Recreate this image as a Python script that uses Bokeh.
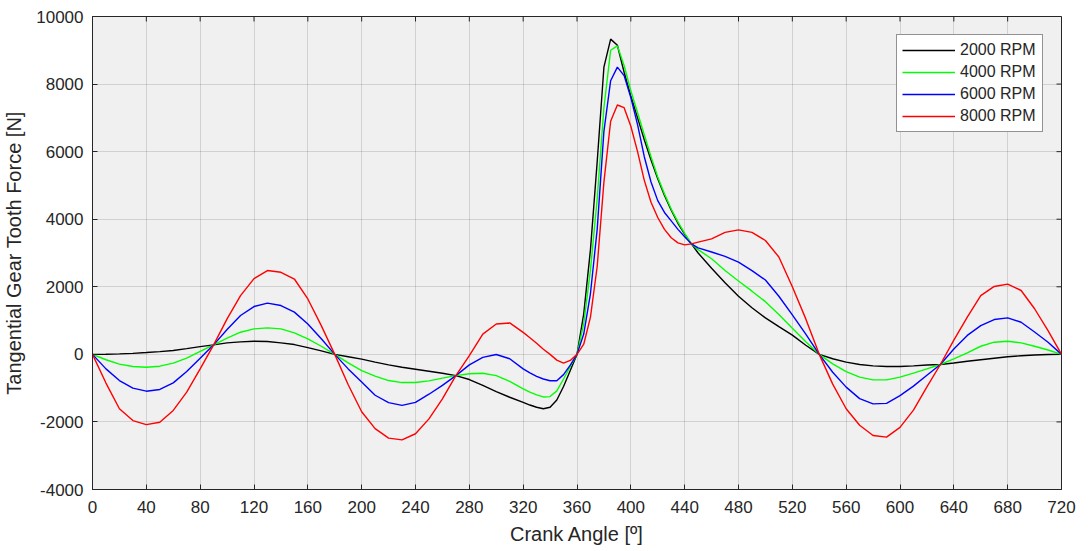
from bokeh.plotting import figure
from bokeh.models import Range1d, FixedTicker, Legend, LegendItem
from bokeh.embed import file_html
from bokeh.resources import INLINE

crank_angle = [0, 10, 20, 30, 40, 50, 60, 70, 80, 90, 100, 110, 120, 130, 140, 150, 160, 170, 180,
               190, 200, 210, 220, 230, 240, 250, 260, 270, 280, 290, 300, 310, 320,
               325, 330, 335, 340, 345, 350, 355, 360, 365, 370, 375, 380, 385, 390, 395, 400,
               405, 410, 415, 420, 425, 430, 435, 440, 445, 450,
               460, 470, 480, 490, 500, 510, 520, 530, 540, 550, 560, 570, 580, 590, 600,
               610, 620, 630, 640, 650, 660, 670, 680, 690, 700, 710, 720]

rpm_2000 = [0, 5, 15, 30, 53, 80, 115, 170, 230, 281, 340, 370, 390, 380, 340, 290, 200, 105, 0,
            -70, -140, -230, -310, -380, -440, -500, -560, -630, -745, -920, -1100, -1270, -1420,
            -1500, -1565, -1610, -1565, -1350, -950, -480, 0, 1200, 3100, 5700, 8500, 9330, 9150, 8350, 7650,
            7000, 6350, 5750, 5200, 4700, 4270, 3880, 3560, 3270, 3000,
            2550, 2120, 1720, 1380, 1080, 820, 570, 270, 0, -130, -230, -300, -340, -360, -360,
            -340, -315, -300, -255, -205, -160, -115, -70, -40, -18, -6, 0]

rpm_4000 = [0, -160, -290, -360, -380, -350, -260, -110, 85, 281, 480, 655, 755, 785, 755, 635, 460, 240, 0,
            -250, -480, -645, -775, -835, -835, -785, -705, -630, -575, -560, -630, -800, -1020,
            -1120, -1200, -1260, -1250, -1080, -730, -360, 0, 900, 2500, 4600, 7300, 9000, 9130, 8550, 7800,
            7150, 6500, 5850, 5250, 4750, 4300, 3920, 3580, 3270, 3100,
            2830, 2480, 2170, 1870, 1560, 1180, 770, 370, 0, -280, -510, -675, -755, -755, -675,
            -555, -430, -300, -135, 45, 240, 360, 390, 340, 240, 130, 0]

rpm_6000 = [0, -430, -775, -1000, -1090, -1040, -845, -510, -115, 281, 735, 1150, 1415, 1515, 1445, 1250, 900, 460, 0,
            -430, -820, -1210, -1430, -1510, -1420, -1180, -920, -630, -310, -90, -5, -130, -430,
            -550, -650, -730, -780, -780, -600, -320, 0, 600, 1800, 3700, 6600, 8100, 8500, 8250, 7600,
            6800, 5850, 5100, 4550, 4200, 3950, 3700, 3480, 3270, 3150,
            3030, 2900, 2730, 2480, 2200, 1720, 1170, 600, 0, -530, -970, -1310, -1465, -1450, -1220,
            -940, -620, -300, 160, 560, 850, 1030, 1080, 950, 660, 360, 0]

rpm_8000 = [0, -850, -1610, -1960, -2080, -2010, -1660, -1120, -430, 281, 1050, 1740, 2240, 2480, 2430, 2230, 1640, 850, 0,
            -900, -1700, -2200, -2480, -2530, -2350, -1910, -1320, -630, -40, 600, 900, 930, 650,
            490, 330, 150, 0, -170, -260, -180, 0, 300, 1100, 2600, 5100, 6900, 7380, 7300, 6750,
            6000, 5150, 4500, 4050, 3700, 3450, 3300, 3240, 3270, 3320,
            3420, 3610, 3685, 3610, 3370, 2880, 2000, 1050, 0, -880, -1610, -2100, -2400, -2450, -2160,
            -1650, -960, -300, 420, 1100, 1740, 2010, 2080, 1890, 1350, 700, 0]

series_names = ["2000 RPM", "4000 RPM", "6000 RPM", "8000 RPM"]
series_colors = ["#000000", "#00ff00", "#0000ff", "#ff0000"]
series_values = [rpm_2000, rpm_4000, rpm_6000, rpm_8000]

x_ticks = list(range(0, 721, 40))
y_ticks = list(range(-4000, 10001, 2000))
y_tick_labels = {t: str(t) for t in y_ticks}
X_MIN, X_MAX = 0, 720
Y_MIN, Y_MAX = -4000, 10000

FONT = "Liberation Sans"
TXT = "#262626"
AX = "#262626"
FW, FH = 969, 473
TICK = 5

p = figure(frame_width=FW, frame_height=FH,
           x_range=Range1d(X_MIN, X_MAX), y_range=Range1d(Y_MIN, Y_MAX),
           output_backend="svg", toolbar_location=None,
           min_border_left=88, min_border_right=15, min_border_top=16, min_border_bottom=50,
           background_fill_color="#f0f0f0", border_fill_color="white")
p.outline_line_color = AX
p.outline_line_width = 1

for ax, tk in ((p.xaxis[0], x_ticks), (p.yaxis[0], y_ticks)):
    ax.ticker = FixedTicker(ticks=tk)
    ax.major_tick_in = TICK
    ax.major_tick_out = 0
    ax.minor_tick_line_color = None
    ax.axis_line_color = AX
    ax.major_tick_line_color = AX
    ax.major_label_text_font = FONT
    ax.major_label_text_font_size = "17px"
    ax.major_label_text_color = TXT
    ax.axis_label_text_font = FONT
    ax.axis_label_text_font_size = "20px"
    ax.axis_label_text_font_style = "normal"
    ax.axis_label_text_color = TXT

p.yaxis.major_label_overrides = y_tick_labels
p.xaxis.major_label_standoff = 11
p.yaxis.major_label_standoff = 9
p.xaxis.axis_label = "Crank Angle [º]"
p.xaxis.axis_label_standoff = 7
p.yaxis.axis_label = "Tangential Gear Tooth Force [N]"
p.yaxis.axis_label_standoff = 8

for g, tk in ((p.xgrid[0], x_ticks), (p.ygrid[0], y_ticks)):
    g.ticker = FixedTicker(ticks=tk)
    g.grid_line_color = "#000000"
    g.grid_line_alpha = 0.13

# inward ticks on the top and right edges of the box (MATLAB style)
dy = TICK * (Y_MAX - Y_MIN) / FH
dx = TICK * (X_MAX - X_MIN) / FW
p.segment(x0=x_ticks, y0=[Y_MAX] * len(x_ticks), x1=x_ticks, y1=[Y_MAX - dy] * len(x_ticks),
          line_color=AX, line_width=1)
p.segment(x0=[X_MAX] * len(y_ticks), y0=y_ticks, x1=[X_MAX - dx] * len(y_ticks), y1=y_ticks,
          line_color=AX, line_width=1)

items = []
for name, col, vals in zip(series_names, series_colors, series_values):
    r = p.line(crank_angle, vals, line_color=col, line_width=1.4)
    items.append(LegendItem(label=name, renderers=[r]))

legend = Legend(items=items, location="top_right")
legend.margin = 18
legend.padding = 5
legend.spacing = 2
legend.glyph_width = 53
legend.glyph_height = 20
legend.label_height = 20
legend.label_width = 77
legend.label_standoff = 5
legend.label_text_font = FONT
legend.label_text_font_size = "16px"
legend.label_text_color = TXT
legend.border_line_color = AX
legend.border_line_width = 1
legend.background_fill_color = "white"
legend.background_fill_alpha = 1.0
p.add_layout(legend, "center")

open("out.html", "w").write(file_html(p, INLINE))
